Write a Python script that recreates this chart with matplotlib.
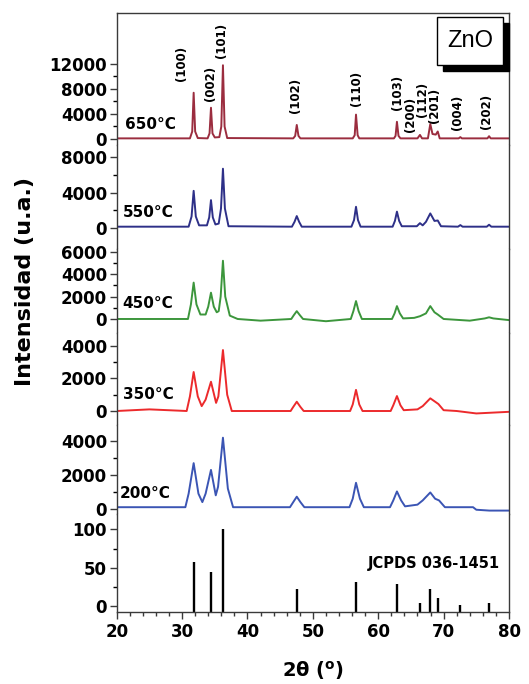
import numpy as np
import matplotlib.pyplot as plt
from matplotlib.ticker import FixedLocator, MultipleLocator
from matplotlib.patches import Rectangle

plt.rcParams['font.family'] = 'DejaVu Sans'
plt.rcParams['font.weight'] = 'bold'

# --- data ---
temps = ['650°C', '550°C', '450°C', '350°C', '200°C']
colors = ['#9b2d3f', '#2e3088', '#3c963c', '#ec2a2c', '#3b55b4']

tt_650 = [20, 31.2, 31.55, 31.77, 32.0, 32.4, 33.9, 34.2, 34.42, 34.65, 35.0, 35.7, 36.0, 36.25, 36.5,
          36.9, 47.0, 47.3, 47.54, 47.8, 48.1, 56.1, 56.4, 56.6, 56.85, 57.1, 62.4, 62.65, 62.86, 63.1,
          63.4, 66.0, 66.38, 66.7, 67.6, 67.96, 68.3, 68.8, 69.1, 69.4, 72.3, 72.56, 72.8, 76.7, 76.95,
          77.2, 80]
i_650 = [100, 100, 1200, 7400, 1200, 150, 100, 900, 5000, 900, 250, 300, 2000, 11800, 2000,
         150, 100, 500, 2250, 500, 100, 100, 600, 3900, 600, 100, 100, 500, 2750, 500,
         100, 100, 650, 100, 100, 2400, 800, 700, 1200, 100, 100, 300, 100, 100, 450,
         100, 100]

tt_550 = [20, 31.0, 31.45, 31.77, 32.1, 32.6, 33.8, 34.15, 34.42, 34.7, 35.1, 35.6, 35.95, 36.25, 36.55,
          37.1, 46.8, 47.2, 47.54, 47.9, 48.3, 55.9, 56.3, 56.6, 56.9, 57.3, 62.2, 62.55, 62.86, 63.2,
          63.6, 65.9, 66.38, 66.8, 67.3, 67.96, 68.6, 69.1, 69.6, 72.2, 72.56, 72.9, 76.6, 76.95, 77.3, 80]
i_550 = [150, 150, 1300, 4200, 1300, 300, 300, 1200, 3150, 1200, 400, 500, 2200, 6700, 2200,
         200, 150, 700, 1350, 700, 150, 150, 900, 2400, 900, 150, 150, 800, 1850, 800,
         200, 200, 550, 300, 700, 1650, 800, 850, 200, 150, 330, 150, 150, 370, 150, 150]

tt_450 = [20, 30.9, 31.35, 31.77, 32.2, 32.8, 33.6, 34.0, 34.42, 34.85, 35.3, 35.6, 35.9, 36.25, 36.6,
          37.3, 38.5, 42, 46.7, 47.1, 47.54, 48.0, 48.5, 52, 55.8, 56.2, 56.6, 57.0, 57.5, 62.1,
          62.5, 62.86, 63.3, 63.8, 65.5, 66.4, 67.3, 67.96, 68.6, 69.1, 70.0, 74, 76.3, 76.95, 77.6, 80]
i_450 = [0, 0, 1300, 3250, 1300, 400, 400, 1100, 2350, 1100, 600, 700, 2000, 5200, 2000,
         300, 0, -150, 0, 350, 700, 350, 0, -200, 0, 700, 1600, 700, 0, 0,
         500, 1150, 500, 50, 100, 250, 500, 1150, 600, 400, 0, -150, 50, 150, 50, -100]

tt_350 = [20, 25, 30.7, 31.2, 31.77, 32.4, 33.0, 33.6, 34.42, 35.2, 35.55, 36.25, 36.9, 37.6, 46.6,
          47.0, 47.54, 48.1, 48.6, 55.7, 56.1, 56.6, 57.1, 57.6, 61.9, 62.3, 62.86, 63.4, 63.9, 66,
          66.8, 67.96, 68.6, 69.2, 70.0, 72, 75, 80]
i_350 = [0, 100, 0, 900, 2400, 900, 300, 700, 1800, 500, 900, 3750, 1000, 0, 0,
         250, 570, 250, 0, 0, 400, 1300, 400, 0, 0, 350, 920, 350, 50, 100,
         300, 780, 600, 430, 50, 0, -150, -50]

tt_200 = [20, 30.5, 31.0, 31.77, 32.5, 33.1, 33.6, 34.42, 35.15, 35.5, 36.25, 37.0, 37.8, 46.5, 47.0,
          47.54, 48.1, 48.7, 55.6, 56.1, 56.6, 57.2, 57.8, 61.8, 62.3, 62.86, 63.5, 64.1, 66.0, 66.8,
          67.96, 68.7, 69.3, 70.2, 74.5, 75.0, 77, 80]
i_200 = [100, 100, 900, 2700, 900, 400, 900, 2300, 800, 1300, 4200, 1200, 100, 100, 400,
         720, 400, 100, 100, 600, 1540, 600, 100, 100, 500, 1030, 500, 150, 250, 500,
         970, 600, 500, 100, 100, -50, -100, -100]

patterns = [(tt_650, i_650), (tt_550, i_550), (tt_450, i_450), (tt_350, i_350), (tt_200, i_200)]

# y ticks shown on each pattern panel
yticks_major = [[0, 4000, 8000, 12000], [0, 4000, 8000], [0, 2000, 4000, 6000],
                [0, 2000, 4000], [0, 2000, 4000]]
yticks_minor = [[2000, 6000, 10000], [2000, 6000], [1000, 3000, 5000],
                [1000, 3000], [1000, 3000]]
ylims = [(-960, 20160), (-2370, 9380), (-1250, 6250), (-860, 4800), (-300, 4950)]

# JCPDS 036-1451 reference
hkl = ['(100)', '(002)', '(101)', '(102)', '(110)', '(103)', '(200)', '(112)', '(201)', '(004)', '(202)']
ref_tt = [31.77, 34.42, 36.25, 47.54, 56.60, 62.86, 66.38, 67.96, 69.10, 72.56, 76.95]
ref_int = [57, 44, 100, 23, 32, 29, 4, 23, 11, 2, 4]

# --- figure ---
fig = plt.figure(figsize=(5.29, 6.84), dpi=100)
gs = fig.add_gridspec(6, 1, height_ratios=[132, 104, 84, 92, 89, 98], hspace=0,
                      left=0.2206, right=0.9622, top=0.981, bottom=0.1053)
axes = [fig.add_subplot(gs[k]) for k in range(6)]

frame_col = '#3a3a3a'
label_x = [21.3, 21.0, 20.9, 21.0, 20.4]
label_y = [2240, 1730, 1340, 985, 900]

for k, ax in enumerate(axes):
    ax.set_xlim(20, 80)
    for side in ['left', 'right', 'top', 'bottom']:
        ax.spines[side].set_color(frame_col)
        ax.spines[side].set_linewidth(1.0)
    if k > 0:
        ax.spines['top'].set_visible(False)
    if k < 5:
        ax.spines['bottom'].set_visible(False)
        ax.tick_params(axis='x', which='both', bottom=False, labelbottom=False)
    ax.tick_params(axis='y', which='major', direction='out', length=5, width=1,
                   labelsize=12, pad=2, colors='black')
    ax.tick_params(axis='y', which='minor', direction='out', length=3, width=1)
    ax.tick_params(axis='y', color=frame_col)

for k in range(5):
    ax = axes[k]
    tt, inten = patterns[k]
    ax.plot(tt, inten, color=colors[k], lw=1.4)
    ax.set_ylim(*ylims[k])
    ax.yaxis.set_major_locator(FixedLocator(yticks_major[k]))
    ax.yaxis.set_minor_locator(FixedLocator(yticks_minor[k]))
    ax.text(label_x[k], label_y[k], temps[k], fontsize=11, fontweight='bold',
            ha='left', va='center')

# hkl labels on the top panel
hkl_x = [29.9, 34.3, 36.0, 47.4, 56.6, 62.9, 64.9, 66.7, 68.6, 72.1, 76.5]
hkl_y = [12160, 8960, 15840, 7040, 8160, 7520, 4000, 6400, 5440, 4320, 4480]
for lab, x, y in zip(hkl, hkl_x, hkl_y):
    axes[0].text(x, y, lab, rotation=90, fontsize=8.5, fontweight='bold',
                 ha='center', va='center')

# reference bars
axr = axes[5]
axr.set_ylim(-7.5, 120)
axr.vlines(ref_tt, -7.5, ref_int, color='black', lw=1.7)
axr.yaxis.set_major_locator(FixedLocator([0, 50, 100]))
axr.yaxis.set_minor_locator(FixedLocator([25, 75]))
axr.text(78.6, 56, 'JCPDS 036-1451', fontsize=10.5, fontweight='bold', ha='right', va='center')
axr.xaxis.set_major_locator(MultipleLocator(10))
axr.xaxis.set_minor_locator(MultipleLocator(2))
axr.tick_params(axis='x', which='major', direction='out', length=5, width=1,
                labelsize=12, pad=3, color=frame_col)
axr.tick_params(axis='x', which='minor', direction='out', length=3, width=1, color=frame_col)

# ZnO box with shadow
fig.add_artist(Rectangle((0.8374, 0.896), 0.1248, 0.0702, transform=fig.transFigure,
                         facecolor='black', edgecolor='black', zorder=5))
fig.add_artist(Rectangle((0.826, 0.905), 0.1248, 0.0702, transform=fig.transFigure,
                         facecolor='white', edgecolor='black', lw=1.0, zorder=6))
fig.text(0.888, 0.940, 'ZnO', fontsize=17, fontweight='normal', ha='center', va='center',
         zorder=7, family='Liberation Sans')

fig.text(25 / 529, 1 - 281 / 684, 'Intensidad (u.a.)', rotation=90, fontsize=16,
         fontweight='bold', ha='center', va='center')
fig.text(313 / 529, 1 - 671 / 684, r'2θ ($^{\mathbf{o}}$)', fontsize=14,
         fontweight='bold', ha='center', va='center')

fig.savefig('out.png', dpi=100)
